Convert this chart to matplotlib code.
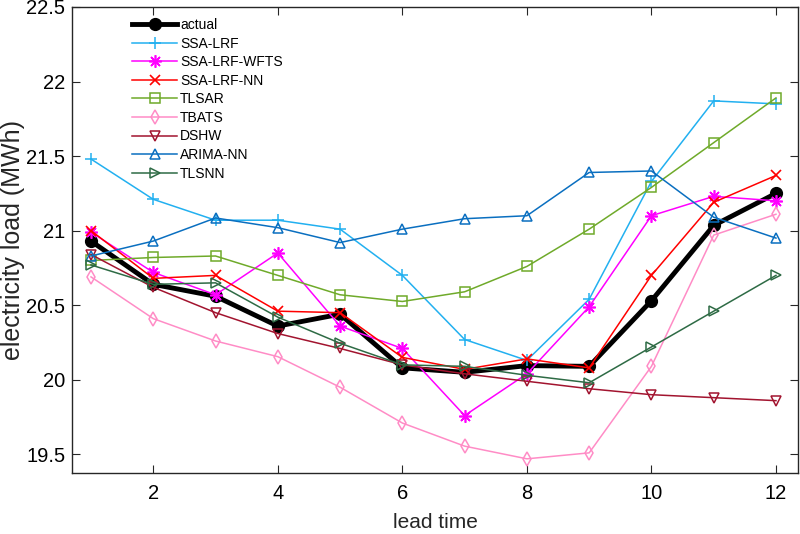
import matplotlib
matplotlib.use('Agg')
import matplotlib.pyplot as plt
import numpy as np

plt.rcParams['font.family'] = ['Liberation Sans', 'DejaVu Sans']

# %%
lead_time = np.arange(1, 13)

actual = [20.93, 20.64, 20.56, 20.36, 20.44, 20.08, 20.05, 20.095, 20.09, 20.53, 21.035, 21.25]
ssa_lrf = [21.48, 21.21, 21.07, 21.07, 21.01, 20.70, 20.27, 20.13, 20.54, 21.33, 21.87, 21.85]
ssa_lrf_wfts = [20.99, 20.72, 20.57, 20.85, 20.36, 20.21, 19.76, 20.04, 20.49, 21.10, 21.23, 21.20]
ssa_lrf_nn = [21.00, 20.68, 20.70, 20.46, 20.45, 20.15, 20.07, 20.14, 20.08, 20.70, 21.19, 21.37]
tlsar = [20.80, 20.82, 20.83, 20.70, 20.57, 20.525, 20.59, 20.76, 21.01, 21.29, 21.59, 21.89]
tbats = [20.69, 20.41, 20.26, 20.155, 19.95, 19.71, 19.555, 19.47, 19.51, 20.09, 20.97, 21.11]
dshw = [20.84, 20.62, 20.45, 20.31, 20.21, 20.10, 20.04, 19.99, 19.94, 19.90, 19.88, 19.86]
arima_nn = [20.83, 20.93, 21.085, 21.02, 20.92, 21.01, 21.08, 21.10, 21.39, 21.40, 21.09, 20.95]
tlsnn = [20.77, 20.64, 20.65, 20.42, 20.245, 20.10, 20.09, 20.03, 19.98, 20.22, 20.46, 20.70]

x_ticks = [2, 4, 6, 8, 10, 12]
y_ticks = [19.5, 20, 20.5, 21, 21.5, 22, 22.5]
y_tick_labels = ['19.5', '20', '20.5', '21', '21.5', '22', '22.5']

# %%
fig = plt.figure(figsize=(8, 5.34), dpi=100)
ax = fig.add_axes([0.0904, 0.1137, 0.9076, 0.8733])

asterisk = (8, 2, 0)  # matlab style '*'

ax.plot(lead_time, actual, color='black', lw=3.5, marker='o', ms=8.5,
        mfc='black', mec='black', label='actual')
ax.plot(lead_time, ssa_lrf, color='#22B0F0', lw=1.1, marker='+', ms=9, mew=1.1, label='SSA-LRF')
ax.plot(lead_time, ssa_lrf_wfts, color='#FF00FF', lw=1.1, marker=asterisk, ms=9, mew=1.2, label='SSA-LRF-WFTS')
ax.plot(lead_time, ssa_lrf_nn, color='#FF0000', lw=1.1, marker='x', ms=7, mew=1.2, label='SSA-LRF-NN')
ax.plot(lead_time, tlsar, color='#6FAA2A', lw=1.1, marker='s', ms=6.5, mfc='none', mew=1.1, label='TLSAR')
ax.plot(lead_time, tbats, color='#FF8CC6', lw=1.1, marker='d', ms=7.5, mfc='none', mew=1.1, label='TBATS')
ax.plot(lead_time, dshw, color='#A2142F', lw=1.1, marker='v', ms=7.5, mfc='none', mew=1.1, label='DSHW')
ax.plot(lead_time, arima_nn, color='#0A6FC0', lw=1.1, marker='^', ms=7.5, mfc='none', mew=1.1, label='ARIMA-NN')
ax.plot(lead_time, tlsnn, color='#2E6B45', lw=1.1, marker='>', ms=7.5, mfc='none', mew=1.1, label='TLSNN')

ax.set_xlim(0.7, 12.36)
ax.set_ylim(19.373, 22.5)
ax.set_xticks(x_ticks)
ax.set_yticks(y_ticks)
ax.set_yticklabels(y_tick_labels)

for s in ax.spines.values():
    s.set_color('#262626')
    s.set_linewidth(1.0)
ax.tick_params(direction='in', top=True, right=True, length=5.5, width=0.8,
               color='#262626', labelsize=14.5)
ax.tick_params(axis='x', pad=8)
ax.tick_params(axis='y', pad=5)

ax.set_xlabel('lead time', fontsize=15, color='#262626')
ax.set_ylabel('electricity load (MWh)', fontsize=18, color='#262626')
ax.xaxis.label.set_va('center')
ax.yaxis.label.set_va('center')
ax.xaxis.set_label_coords(0.5, -0.1045)
ax.yaxis.set_label_coords(-0.0817, 0.5)

ax.legend(loc='upper left', bbox_to_anchor=(132 / 800, 1 - 18 / 534),
          bbox_transform=fig.transFigure, frameon=False, fontsize=10,
          handlelength=3.25, handletextpad=0.2, labelspacing=0.33,
          borderpad=0, borderaxespad=0)

fig.savefig('out.png', dpi=100)
